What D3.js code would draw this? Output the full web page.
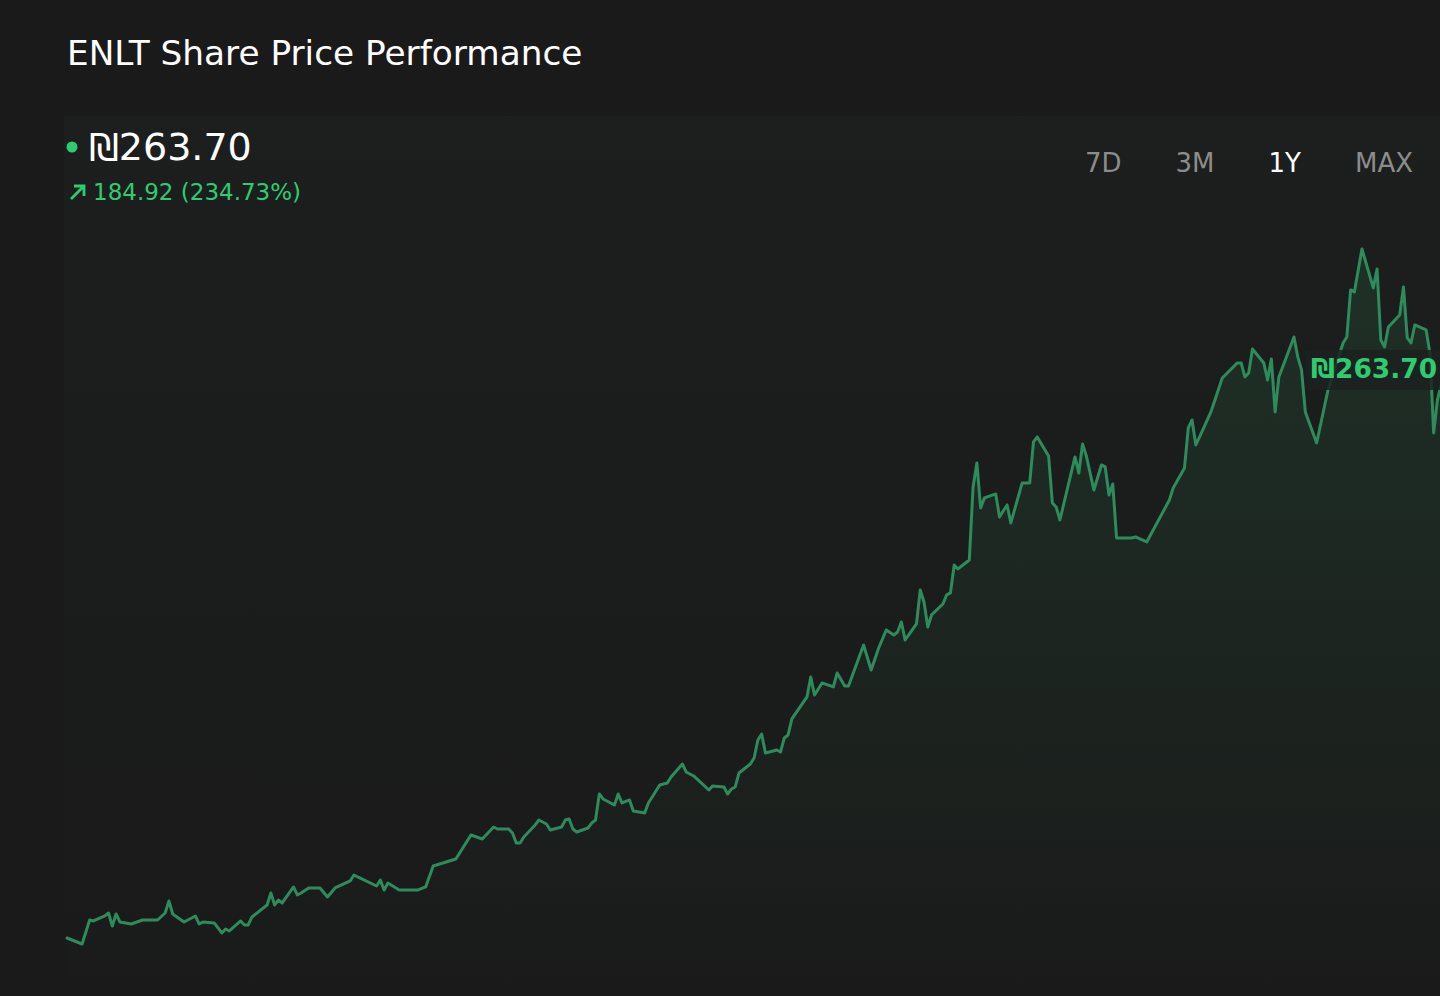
<!DOCTYPE html>
<html>
<head>
<meta charset="utf-8">
<script src="https://cdn.jsdelivr.net/npm/d3@7/dist/d3.min.js"></script>
<style>
  html, body { margin: 0; padding: 0; background: #1a1a1a; overflow: hidden; }
  svg { display: block; font-family: "DejaVu Sans", sans-serif; }
</style>
</head>
<body>
<svg id="chart" width="1440" height="996"></svg>
<script>
// ---- data ----
const title = "ENLT Share Price Performance";
const currency = "₪";
const lastPrice = 263.70;
const change = 184.92;
const changePct = 234.73;
const ranges = ["7D", "3M", "1Y", "MAX"];
const activeRange = "1Y";

// calendar-day offsets over the 1-year window
const days = [0,4,6,7,10,11,12,13,14,17,20,24,26,27,28,31,34,35,36,39,41,42,43,46,47,48,49,53,54,55,56,57,60,61,62,64,67,69,71,75,76,77,82,83,84,85,88,93,95,97,103,105,107,110,113,114,117,118,119,120,121,124,125,127,128,131,132,133,134,135,138,139,140,141,142,145,146,147,149,150,153,154,157,159,160,163,164,166,168,170,171,174,175,176,177,178,181,182,183,184,185,188,189,190,191,192,196,197,198,200,203,204,206,207,211,213,215,217,219,220,221,222,225,226,227,228,229,232,233,234,235,236,239,240,241,242,243,246,247,249,250,253,255,256,257,260,261,262,263,267,268,269,270,272,274,275,276,277,278,282,283,286,292,293,296,297,298,299,300,303,306,310,311,312,313,314,317,318,319,320,321,325,326,327,328,331,334,338,339,340,341,343,346,347,348,349,350,353,354,355,356,357,360,361,362,363,365];
const prices = [78.78,76.83,84.63,84.31,85.93,86.90,82.68,86.58,83.98,83.33,84.63,84.63,86.90,90.81,86.58,83.98,85.93,83.33,83.98,83.66,80.41,81.71,81.06,84.31,83.01,83.01,85.61,89.51,93.41,89.51,91.13,90.16,95.36,92.76,93.41,95.03,95.03,92.11,95.03,97.31,99.26,98.61,95.68,97.63,94.38,96.66,94.38,94.38,95.36,102.18,104.46,108.36,112.26,110.96,114.86,114.21,114.21,112.91,109.66,109.66,111.61,115.51,117.13,115.83,113.88,114.86,117.13,117.46,114.21,113.23,114.53,116.16,117.13,125.58,123.96,122.01,125.58,122.66,123.63,120.06,119.41,122.66,128.51,129.16,131.11,135.33,132.73,131.43,129.16,126.88,128.18,127.86,125.58,127.21,127.86,132.41,135.33,137.28,143.13,145.08,138.91,139.88,139.23,143.78,144.76,149.96,157.11,163.61,157.76,161.66,160.36,164.91,160.68,160.68,174.01,165.88,173.03,178.88,177.26,178.23,181.48,175.63,180.83,191.88,187.98,179.86,183.76,187.33,190.26,190.91,200.01,198.71,201.63,225.36,233.16,218.53,221.78,223.08,215.61,219.51,213.66,226.66,226.66,239.98,241.61,235.43,220.16,218.86,214.63,235.11,229.91,239.33,235.43,224.38,232.51,231.86,222.76,226.33,208.78,208.78,209.11,207.48,221.13,225.03,231.53,244.53,247.13,239.01,241.61,249.73,260.78,265.66,265.66,261.11,262.41,270.21,265.66,260.13,266.96,249.73,261.11,274.11,267.61,263.38,249.73,239.66,256.88,272.16,274.11,289.38,288.73,302.71,290.03,296.21,273.13,270.86,277.36,281.26,290.36,273.78,272.16,278.01,276.38,268.91,242.91,253.63,263.70];

const data = days.map((d, i) => ({ day: d, price: prices[i] }));

// ---- layout ----
const W = 1440, H = 996;
const svg = d3.select("#chart");

svg.append("rect").attr("width", W).attr("height", H).attr("fill", "#1a1a1a");

const defs = svg.append("defs");
const bgGrad = defs.append("linearGradient").attr("id", "bgGrad")
  .attr("x1", 0).attr("y1", 0).attr("x2", 0).attr("y2", 1);
bgGrad.append("stop").attr("offset", "0%").attr("stop-color", "#2a4a3a").attr("stop-opacity", 0.10);
bgGrad.append("stop").attr("offset", "100%").attr("stop-color", "#2a4a3a").attr("stop-opacity", 0.0);

const areaGrad = defs.append("linearGradient").attr("id", "areaGrad")
  .attr("gradientUnits", "userSpaceOnUse")
  .attr("x1", 0).attr("y1", 240).attr("x2", 0).attr("y2", H);
areaGrad.append("stop").attr("offset", "0%").attr("stop-color", "#2e8b57").attr("stop-opacity", 0.17);
areaGrad.append("stop").attr("offset", "100%").attr("stop-color", "#2e8b57").attr("stop-opacity", 0.0);

// faint plot panel
svg.append("rect").attr("x", 64).attr("y", 116).attr("width", W - 64).attr("height", H - 116)
  .attr("fill", "url(#bgGrad)");

const x = d3.scaleLinear().domain([0, 365]).range([67, 1445]);
const y = d3.scaleLinear().domain([70, 310]).range([965, 226.5]);

const area = d3.area().x(d => x(d.day)).y0(H).y1(d => y(d.price));
const line = d3.line().x(d => x(d.day)).y(d => y(d.price));

svg.append("path").datum(data).attr("d", area).attr("fill", "url(#areaGrad)");
svg.append("path").datum(data).attr("d", line)
  .attr("fill", "none").attr("stroke", "#2e8b5c").attr("stroke-width", 3)
  .attr("stroke-linejoin", "round").attr("stroke-linecap", "round");

// end label
const last = data[data.length - 1];
const ly = y(last.price);
svg.append("rect").attr("x", 1306).attr("y", ly - 19).attr("width", 140).attr("height", 40)
  .attr("fill", "#1c211e").attr("fill-opacity", 0.85);
svg.append("text").attr("x", 1311).attr("y", ly + 9)
  .attr("fill", "#2ecc71").attr("font-size", 26.5).attr("font-weight", "bold")
  .text(currency + d3.format(".2f")(last.price));

// header
svg.append("text").attr("x", 67).attr("y", 65).attr("fill", "#ffffff")
  .attr("font-size", 34.3).text(title);

svg.append("circle").attr("cx", 72).attr("cy", 147).attr("r", 5.5).attr("fill", "#2ecc71");
svg.append("text").attr("x", 89).attr("y", 160).attr("fill", "#ffffff")
  .attr("font-size", 38).text(currency + d3.format(".2f")(lastPrice));

// trend arrow
svg.append("path").attr("d", "M71,199 L84,186 M74,186 L84,186 L84,196")
  .attr("fill", "none").attr("stroke", "#2ecc71").attr("stroke-width", 2.8)
  .attr("stroke-linecap", "butt").attr("stroke-linejoin", "miter");
svg.append("text").attr("x", 93).attr("y", 200).attr("fill", "#2ecc71")
  .attr("font-size", 23)
  .text(d3.format(".2f")(change) + " (" + d3.format(".2f")(changePct) + "%)");

// range buttons laid out as a row with fixed gaps
let bx = 1085;
ranges.forEach(r => {
  const t = svg.append("text").attr("x", bx).attr("y", 172)
    .attr("font-size", 26)
    .attr("fill", r === activeRange ? "#ffffff" : "#8c8c8c")
    .text(r);
  bx += t.node().getComputedTextLength() + 54;
});
</script>
</body>
</html>
